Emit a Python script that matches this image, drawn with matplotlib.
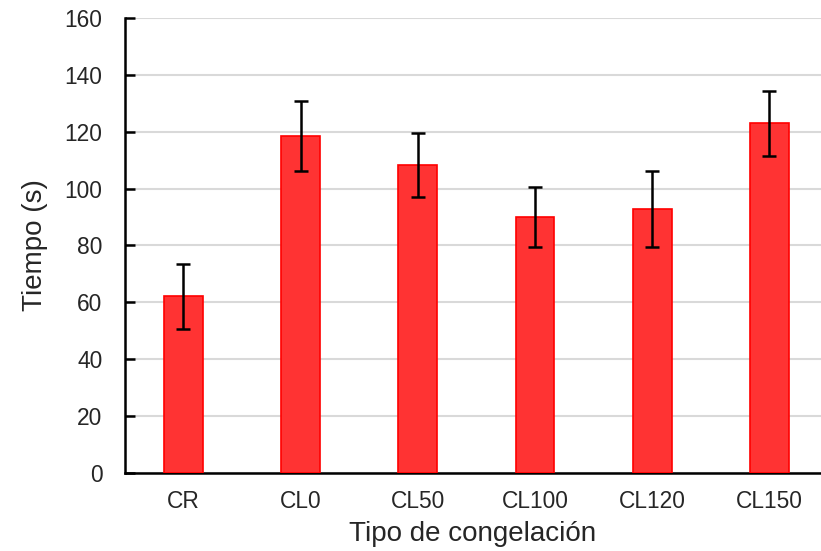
import matplotlib
matplotlib.use("Agg")
import matplotlib.pyplot as plt

categories = ["CR", "CL0", "CL50", "CL100", "CL120", "CL150"]
values = [62.2, 118.5, 108.3, 90.0, 92.8, 123.0]
errors = [11.4, 12.3, 11.4, 10.5, 13.3, 11.4]

plt.rcParams['font.family'] = ['Liberation Sans', 'DejaVu Sans']
text_color = '#262626'

fig = plt.figure(figsize=(8.21, 5.51), dpi=100)
ax = fig.add_axes([0.152, 0.1416, 0.848, 0.8258])

x = list(range(len(categories)))
ax.bar(x, values, width=0.33, color='#FF3333', edgecolor='#FF0000', linewidth=1.2, zorder=3)
ax.errorbar(x, values, yerr=errors, fmt='none', ecolor='black', elinewidth=1.8,
            capsize=5, capthick=1.8, zorder=4)

ax.set_ylim(0, 160)
ax.set_yticks(range(0, 161, 20))
ax.set_xlim(-0.5, 5.44)
ax.set_xticks(x)
ax.set_xticklabels(categories)
ax.yaxis.grid(True, color='#d9d9d9', linewidth=1.5, zorder=0)
ax.set_axisbelow(True)

for s in ['top', 'right']:
    ax.spines[s].set_visible(False)
for s in ['left', 'bottom']:
    ax.spines[s].set_linewidth(1.8)
    ax.spines[s].set_color('black')

ax.tick_params(axis='both', direction='in', length=7, width=1.8, labelsize=16.4,
               color='black', labelcolor=text_color)
ax.tick_params(axis='y', pad=16)
ax.tick_params(axis='x', length=5, pad=12)
ax.set_ylabel("Tiempo (s)", fontsize=20, labelpad=12, color=text_color)
ax.set_xlabel("Tipo de congelación", fontsize=20, labelpad=6, color=text_color)

fig.savefig("out.png", dpi=100)
